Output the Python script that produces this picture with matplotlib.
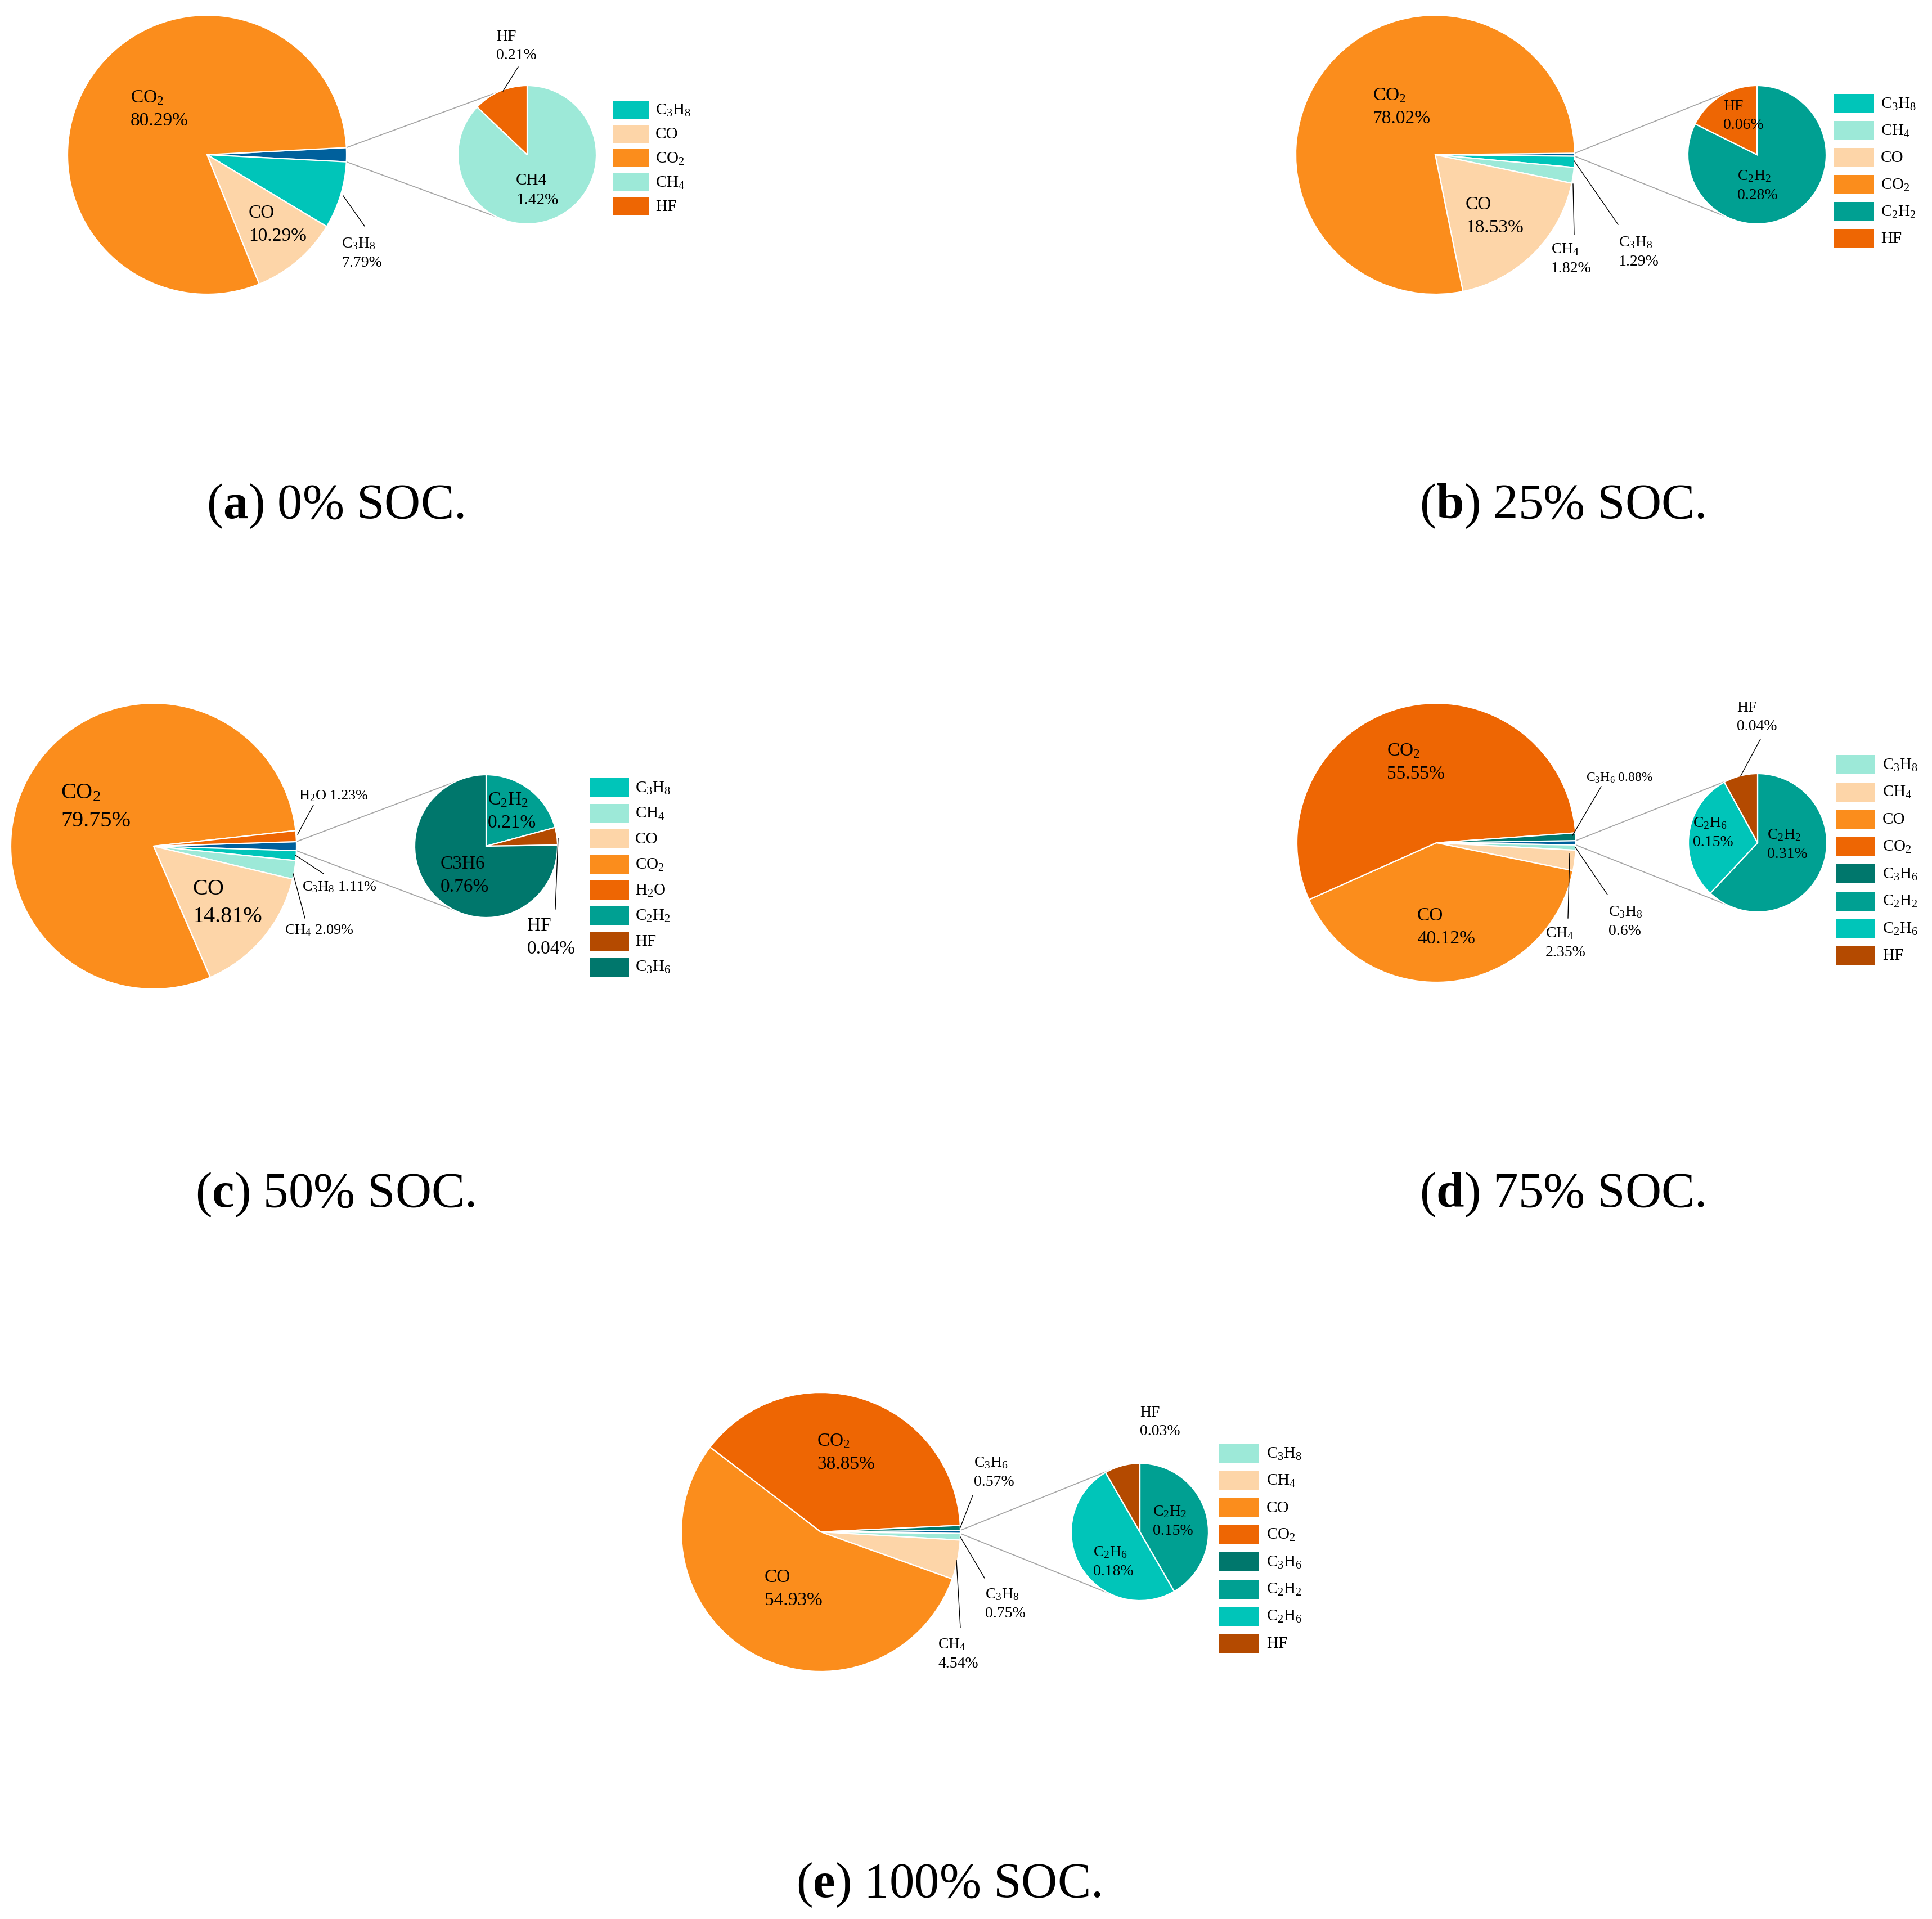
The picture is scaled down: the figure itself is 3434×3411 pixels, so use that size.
import re

import matplotlib
matplotlib.use("Agg")
import matplotlib.pyplot as plt
from matplotlib.patches import Rectangle
import numpy as np

plt.rcParams.update(
    {
        "font.family": "Liberation Serif",
        "mathtext.fontset": "custom",
        "mathtext.rm": "Liberation Serif",
        "mathtext.it": "Liberation Serif:italic",
        "mathtext.bf": "Liberation Serif:bold",
    }
)

W, H = 3434, 3412

TURQ = "#00c5b9"
MINT = "#9de9d8"
PEACH = "#fdd5a8"
ORANGE = "#fb8d1c"
REDOR = "#ee6603"
TEAL = "#00a092"
DKTEAL = "#00776c"
BROWN = "#b44a00"
OTHER = "#00609c"

# ---- data (percent of total gas) ----
A_MAIN_NAMES = ["C3H8", "CO", "CO2"]
A_MAIN_VALUES = [7.79, 10.29, 80.29]
A_SMALL_NAMES = ["CH4", "HF"]
A_SMALL_VALUES = [1.42, 0.21]
A_COLORS = [TURQ, PEACH, ORANGE, MINT, REDOR]

B_MAIN_NAMES = ["C3H8", "CH4", "CO", "CO2"]
B_MAIN_VALUES = [1.29, 1.82, 18.53, 78.02]
B_SMALL_NAMES = ["C2H2", "HF"]
B_SMALL_VALUES = [0.28, 0.06]
B_COLORS = [TURQ, MINT, PEACH, ORANGE, TEAL, REDOR]

C_MAIN_NAMES = ["C3H8", "CH4", "CO", "CO2", "H2O"]
C_MAIN_VALUES = [1.11, 2.09, 14.81, 79.75, 1.23]
C_SMALL_NAMES = ["C2H2", "HF", "C3H6"]
C_SMALL_VALUES = [0.21, 0.04, 0.76]
C_COLORS = [TURQ, MINT, PEACH, ORANGE, REDOR, TEAL, BROWN, DKTEAL]

D_MAIN_NAMES = ["C3H8", "CH4", "CO", "CO2", "C3H6"]
D_MAIN_VALUES = [0.6, 2.35, 40.12, 55.55, 0.88]
D_SMALL_NAMES = ["C2H2", "C2H6", "HF"]
D_SMALL_VALUES = [0.31, 0.15, 0.04]
D_COLORS = [MINT, PEACH, ORANGE, REDOR, DKTEAL, TEAL, TURQ, BROWN]

E_MAIN_NAMES = ["C3H8", "CH4", "CO", "CO2", "C3H6"]
E_MAIN_VALUES = [0.75, 4.54, 54.93, 38.85, 0.57]
E_SMALL_NAMES = ["C2H2", "C2H6", "HF"]
E_SMALL_VALUES = [0.15, 0.18, 0.03]
E_COLORS = [MINT, PEACH, ORANGE, REDOR, DKTEAL, TEAL, TURQ, BROWN]

CAPTIONS = ["a", "b", "c", "d", "e"]
SOC_LEVELS = ["0%", "25%", "50%", "75%", "100%"]

# ---- layout (image pixel coords, y downwards) ----
# label spec: name -> (left x, centre y, fontsize, style, leader line or None, plain name)
LAYOUTS = [
    dict(main=(368, 276, 248), small=(937, 276, 123), fs=24,
         legend=(1089, 196, 43, 65, 32, 1165), caption=(596, 900),
         labels={
             "CO2": (232, 194, 24, "two", None, False),
             "CO": (442, 399, 24, "two", None, False),
             "C3H8": (607, 450, 20, "two", ((610, 349), (648, 403)), False),
             "CH4": (917, 338, 21, "two", None, True),
             "HF": (882, 82, 20, "two", ((921, 120), (894, 163)), False),
         }),
    dict(main=(2551, 276, 248), small=(3123, 276, 123), fs=24,
         legend=(3259, 185, 48, 72, 34, 3343), caption=(2777, 900),
         labels={
             "CO2": (2440, 190, 24, "two", None, False),
             "CO": (2605, 384, 24, "two", None, False),
             "CH4": (2757, 460, 20, "two", ((2796, 328), (2798, 418)), False),
             "C3H8": (2877, 448, 20, "two", ((2798, 287), (2876, 400)), False),
             "HF": (3063, 206, 20, "two", None, False),
             "C2H2": (3088, 330, 20, "two", None, False),
         }),
    dict(main=(273, 1505, 254), small=(864, 1505, 127), fs=29,
         legend=(1048, 1401, 45.5, 70, 34, 1129), caption=(596, 2124),
         labels={
             "CO2": (108, 1435, 29, "two", None, False),
             "CO": (342, 1605, 29, "two", None, False),
             "H2O": (531, 1415, 19, "one", ((557, 1432), (529, 1484)), False),
             "C3H8": (537, 1577, 19, "one", ((525, 1521), (575, 1554)), False),
             "CH4": (506, 1654, 19, "one", ((521, 1554), (542, 1633)), False),
             "C2H2": (867, 1442, 24, "two", None, False),
             "C3H6": (783, 1556, 24, "two", None, True),
             "HF": (937, 1666, 24, "two", ((992, 1491), (987, 1617)), False),
         }),
    dict(main=(2553, 1499, 248), small=(3124, 1499, 123), fs=24,
         legend=(3263, 1360, 48.5, 70, 34, 3346), caption=(2777, 2124),
         labels={
             "CO2": (2465, 1355, 24, "two", None, False),
             "CO": (2519, 1648, 24, "two", None, False),
             "C3H6": (2819, 1383, 17, "one", ((2846, 1399), (2795, 1486)), False),
             "CH4": (2747, 1676, 20, "two", ((2790, 1518), (2787, 1633)), False),
             "C3H8": (2859, 1638, 20, "two", ((2800, 1507), (2857, 1591)), False),
             "HF": (3087, 1275, 20, "two", ((3129, 1315), (3094, 1380)), False),
             "C2H6": (3009, 1480, 20, "two", None, False),
             "C2H2": (3141, 1501, 20, "two", None, False),
         }),
    dict(main=(1459, 2724, 248), small=(2026, 2724, 122), fs=24,
         legend=(2167, 2584, 48.3, 71, 34, 2251), caption=(1686, 3351),
         labels={
             "CO2": (1452, 2582, 24, "two", None, False),
             "CO": (1359, 2824, 24, "two", None, False),
             "C3H6": (1731, 2617, 20, "two", ((1729, 2659), (1707, 2716)), False),
             "C3H8": (1751, 2851, 20, "two", ((1707, 2733), (1750, 2806)), False),
             "CH4": (1667, 2940, 20, "two", ((1700, 2774), (1707, 2894)), False),
             "HF": (2026, 2528, 20, "two", None, False),
             "C2H2": (2049, 2704, 20, "two", None, False),
             "C2H6": (1943, 2776, 20, "two", None, False),
         }),
]

PANELS = [
    (A_MAIN_NAMES, A_MAIN_VALUES, A_SMALL_NAMES, A_SMALL_VALUES, A_COLORS),
    (B_MAIN_NAMES, B_MAIN_VALUES, B_SMALL_NAMES, B_SMALL_VALUES, B_COLORS),
    (C_MAIN_NAMES, C_MAIN_VALUES, C_SMALL_NAMES, C_SMALL_VALUES, C_COLORS),
    (D_MAIN_NAMES, D_MAIN_VALUES, D_SMALL_NAMES, D_SMALL_VALUES, D_COLORS),
    (E_MAIN_NAMES, E_MAIN_VALUES, E_SMALL_NAMES, E_SMALL_VALUES, E_COLORS),
]


def chem(name: str) -> str:
    return re.sub(r"(\d)", r"$\\mathregular{_\1}$", name)


def fy(y: float) -> float:
    return H - y


fig = plt.figure(figsize=(W / 100, H / 100), dpi=100)
ax = fig.add_axes([0, 0, 1, 1])

wedge_style = {"edgecolor": "white", "linewidth": 1.6}

for (main_names, main_vals, small_names, small_vals, colors), lay in zip(PANELS, LAYOUTS):
    n_main = len(main_names)
    other = float(np.sum(small_vals))
    half = other * 3.6 / 2

    mx, my, mr = lay["main"]
    sx, sy, sr = lay["small"]

    ax.pie(
        [other] + list(main_vals),
        colors=[OTHER] + colors[:n_main],
        startangle=half,
        counterclock=False,
        center=(mx, fy(my)),
        radius=mr,
        wedgeprops=wedge_style,
    )
    ax.pie(
        small_vals,
        colors=colors[n_main:],
        startangle=90,
        counterclock=False,
        center=(sx, fy(sy)),
        radius=sr,
        wedgeprops=wedge_style,
    )

    # connector lines between the "other" wedge and the second pie
    for sign in (1, -1):
        a1 = np.deg2rad(sign * half)
        a2 = np.deg2rad(sign * 116)
        ax.plot(
            [mx + mr * np.cos(a1), sx + sr * np.cos(a2)],
            [fy(my) + mr * np.sin(a1), fy(sy) + sr * np.sin(a2)],
            color="#a6a6a6",
            lw=1.3,
            zorder=0,
        )

    # data labels
    values = dict(zip(main_names + small_names, list(main_vals) + list(small_vals)))
    for name, (lx, ly, fs, style, leader, plain) in lay["labels"].items():
        label = name if plain else chem(name)
        sep = "\n" if style == "two" else " "
        ax.text(
            lx, fy(ly), f"{label}{sep}{values[name]:g}%",
            ha="left", va="center", multialignment="left",
            fontsize=fs, linespacing=1.45, zorder=5,
        )
        if leader is not None:
            (x1, y1), (x2, y2) = leader
            ax.plot([x1, x2], [fy(y1), fy(y2)], color="black", lw=1.0, zorder=4)

    # legend
    bx, by, step, bw, bh, tx = lay["legend"]
    for i, (name, color) in enumerate(zip(main_names + small_names, colors)):
        yc = by + i * step
        ax.add_patch(Rectangle((bx, fy(yc) - bh / 2), bw, bh, facecolor=color, edgecolor="none"))
        ax.text(tx, fy(yc), chem(name), ha="left", va="center", fontsize=21)

for letter, soc, lay in zip(CAPTIONS, SOC_LEVELS, LAYOUTS):
    cx, cy = lay["caption"]
    ax.text(cx, fy(cy), rf"($\mathbf{{{letter}}}$) {soc} SOC.", ha="center", va="center", fontsize=64)

ax.set_xlim(0, W)
ax.set_ylim(0, H)
ax.set_aspect("equal")
ax.axis("off")

fig.savefig("out.png", dpi=100, facecolor="white")
